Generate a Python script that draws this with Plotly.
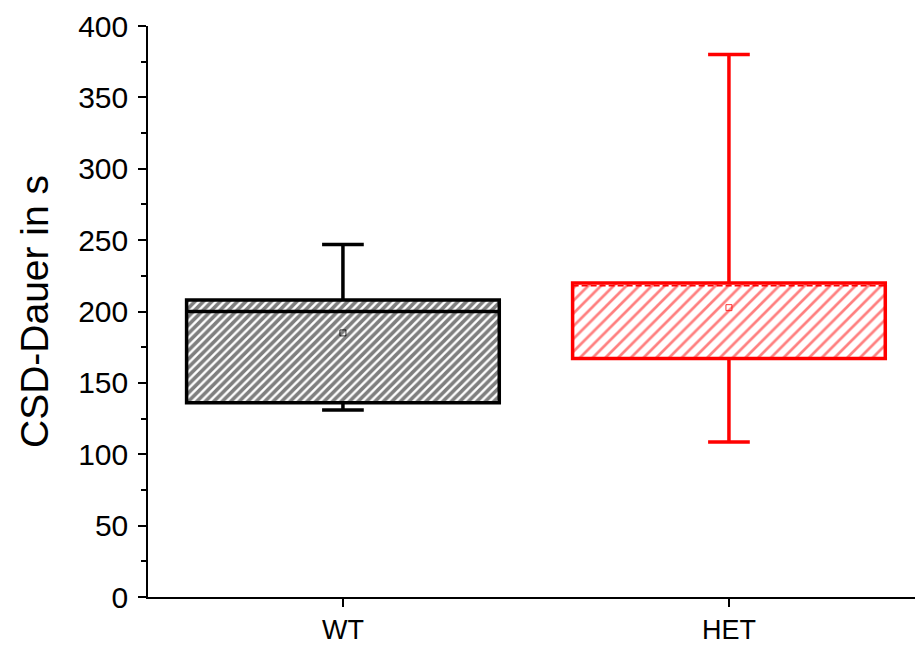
import plotly.graph_objects as go

# ---- data ----
groups = ["WT", "HET"]
q1 = [136, 167]
median = [200, 218]
q3 = [208, 220]
whisker_low = [131, 108.5]
whisker_high = [247, 380]
means = [185, 202.7]
colors = ["#000000", "#ff0000"]
y_ticks = [0, 50, 100, 150, 200, 250, 300, 350, 400]

# ---- style ----
box_w = 0.81
cap_hw = 0.054
pat_size = [6, 9]
pat_sol = [0.6, 0.3]

fig = go.Figure()
xpos = list(range(len(groups)))

for i, g in enumerate(groups):
    c = colors[i]
    x = xpos[i]
    # whiskers
    fig.add_trace(go.Scatter(
        x=[x, x, None, x, x, None, x - cap_hw, x + cap_hw, None, x - cap_hw, x + cap_hw],
        y=[q3[i], whisker_high[i], None, q1[i], whisker_low[i], None,
           whisker_high[i], whisker_high[i], None, whisker_low[i], whisker_low[i]],
        mode="lines", line=dict(color=c, width=3.5), showlegend=False, hoverinfo="skip"))
    # hatched box
    fig.add_trace(go.Bar(
        x=[x], y=[q3[i] - q1[i]], base=[q1[i]], width=box_w,
        marker=dict(color="white",
                    line=dict(color=c, width=3.5),
                    pattern=dict(shape="/", fgcolor=c, bgcolor="white",
                                 size=pat_size[i], solidity=pat_sol[i])),
        showlegend=False, hoverinfo="skip"))
    # median
    if i == 0:
        mline = dict(color=c, width=3.5)
    else:
        mline = dict(color=c, width=1.5, dash="6px,3px")
    fig.add_trace(go.Scatter(
        x=[x - box_w / 2, x + box_w / 2], y=[median[i], median[i]],
        mode="lines", line=mline, showlegend=False, hoverinfo="skip"))
    # mean
    fig.add_trace(go.Scatter(
        x=[x], y=[means[i]], mode="markers",
        marker=dict(symbol="square-open", size=6, color=c, line=dict(width=0.8)),
        showlegend=False, hoverinfo="skip"))

fig.update_layout(
    width=915, height=646,
    margin=dict(l=148, r=0, t=26, b=49),
    paper_bgcolor="white", plot_bgcolor="white",
    barmode="overlay",
    font=dict(family="Liberation Sans, Arial, sans-serif", color="black"),
)
fig.update_xaxes(
    range=[-0.505, 1.482], tickmode="array", tickvals=xpos, ticktext=groups,
    showgrid=False, zeroline=False, showline=True, linecolor="black", linewidth=1.5,
    ticks="outside", ticklen=8, tickwidth=1.5, tickcolor="black",
    tickfont=dict(size=27),
)
fig.update_yaxes(
    range=[0, 400], tickmode="array", tickvals=y_ticks,
    showgrid=False, zeroline=False, showline=True, linecolor="black", linewidth=1.5,
    ticks="outside", ticklen=8, tickwidth=1.5, tickcolor="black",
    minor=dict(dtick=25, ticks="outside", ticklen=5, tickwidth=1.5, tickcolor="black", showgrid=False),
    tickfont=dict(size=30),
    ticklabelstandoff=4,
    title=dict(text="CSD-Dauer in s", font=dict(size=39), standoff=18),
)

fig.write_html("out.html")
